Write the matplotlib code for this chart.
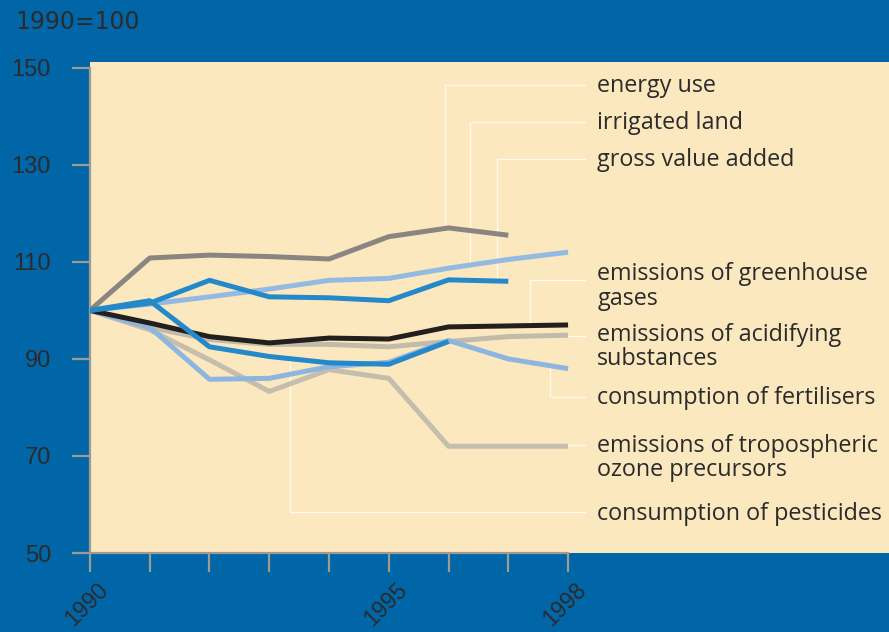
import matplotlib.pyplot as plt
import numpy as np
from matplotlib.transforms import ScaledTranslation

# Data (index, 1990 = 100)
years = [1990, 1991, 1992, 1993, 1994, 1995, 1996, 1997, 1998]
energy_use = [100, 110.8, 111.4, 111.1, 110.6, 115.2, 117.0, 115.5]
irrigated_land = [100, 101.3, 102.8, 104.4, 106.2, 106.6, 108.7, 110.5, 112.0]
gross_value_added = [100, 101.5, 106.2, 102.8, 102.6, 102.0, 106.3, 106.0]
greenhouse_gases = [100, 97.4, 94.6, 93.3, 94.3, 94.1, 96.6, 96.8, 97.0]
acidifying = [100, 96.5, 94.0, 93.0, 93.0, 92.5, 93.6, 94.6, 94.9]
fertilisers = [100, 96.5, 85.8, 86.0, 88.4, 89.3, 93.8, 90.0, 88.0]
ozone_precursors = [100, 96.0, 89.8, 83.3, 87.8, 86.0, 72.0, 72.0, 72.0]
pesticides = [100, 102.0, 92.5, 90.5, 89.2, 88.9, 93.6]

yticks = [50, 70, 90, 110, 130, 150]
xticks = [1990, 1995, 1998]

blue_bg = '#0066a8'
beige = '#fce8bf'
txt = '#2b2b2b'

fig = plt.figure(figsize=(8.89, 6.32), dpi=100, facecolor=blue_bg)
ax = fig.add_axes([0.1012, 0.125, 0.8988, 0.7769])
ax.set_facecolor(beige)
ax.set_xlim(1990, 2003.37)
ax.set_ylim(50, 151.2)

# series: (values, colour, label text, label y, leader y, leader x)
series = [
    (ozone_precursors, '#c5bdae', 'emissions of tropospheric\nozone precursors', 69.6, 72.3, None),
    (acidifying, '#c2baab', 'emissions of acidifying\nsubstances', 92.4, 94.7, None),
    (fertilisers, '#8db5df', 'consumption of fertilisers', 82.0, 82.2, 1997.70),
    (irrigated_land, '#93bae2', 'irrigated land', 138.6, 138.9, 1996.36),
    (energy_use, '#8a8580', 'energy use', 146.2, 146.5, 1995.94),
    (greenhouse_gases, '#231f1c', 'emissions of greenhouse\ngases', 104.9, 106.2, 1997.36),
    (gross_value_added, '#2389cb', 'gross value added', 131.1, 131.2, 1996.81),
    (pesticides, '#2389cb', 'consumption of pesticides', 58.1, 58.4, 1993.35),
]

leader_end = 1998.28
for vals, col, label, ly, leady, lx in series:
    yrs = years[:len(vals)]
    ax.plot(yrs, vals, color=col, lw=3.6, solid_capstyle='butt', zorder=3)
    # white leader lines
    if lx is not None:
        yv = np.interp(lx, yrs, vals)
        ax.plot([lx, lx, leader_end], [yv, leady, leady], color='#fffaf0',
                lw=0.9, zorder=2)
    else:
        ax.plot([yrs[-1], leader_end], [leady, leady], color='#fffaf0',
                lw=0.9, zorder=2)
    ax.text(1998.49, ly, label, color=txt, fontsize=16.8, family='Open Sans',
            va='center', ha='left', linespacing=1.02)

for s in ['top', 'right']:
    ax.spines[s].set_visible(False)
ax.spines['left'].set_color('#a09a92')
ax.spines['bottom'].set_color('#a09a92')
ax.spines['left'].set_linewidth(1.6)
ax.spines['bottom'].set_linewidth(1.6)
ax.spines['left'].set_bounds(50, 150)
ax.spines['bottom'].set_bounds(1990, 1998)

ax.set_yticks(yticks)
ax.set_yticklabels([str(v) for v in yticks], fontsize=17, color=txt,
                   family='Liberation Sans')
ax.set_xticks(years)
ax.set_xticklabels([str(y) if y in xticks else '' for y in years],
                   fontsize=16.5, color=txt, family='Liberation Sans',
                   rotation=45, ha='right', rotation_mode='anchor')
ax.tick_params(axis='y', length=13, width=1.6, color='#a09a92', pad=15)
ax.tick_params(axis='x', length=14, width=1.6, color='#a09a92', pad=4)
for lab in ax.get_xticklabels():
    lab.set_transform(lab.get_transform() + ScaledTranslation(0.07, 0.0, fig.dpi_scale_trans))

fig.text(0.017, 0.965, '1990=100', fontsize=17, color=txt,
         family='DejaVu Sans', va='center', ha='left')

fig.savefig('out.png', dpi=100, facecolor=blue_bg)
